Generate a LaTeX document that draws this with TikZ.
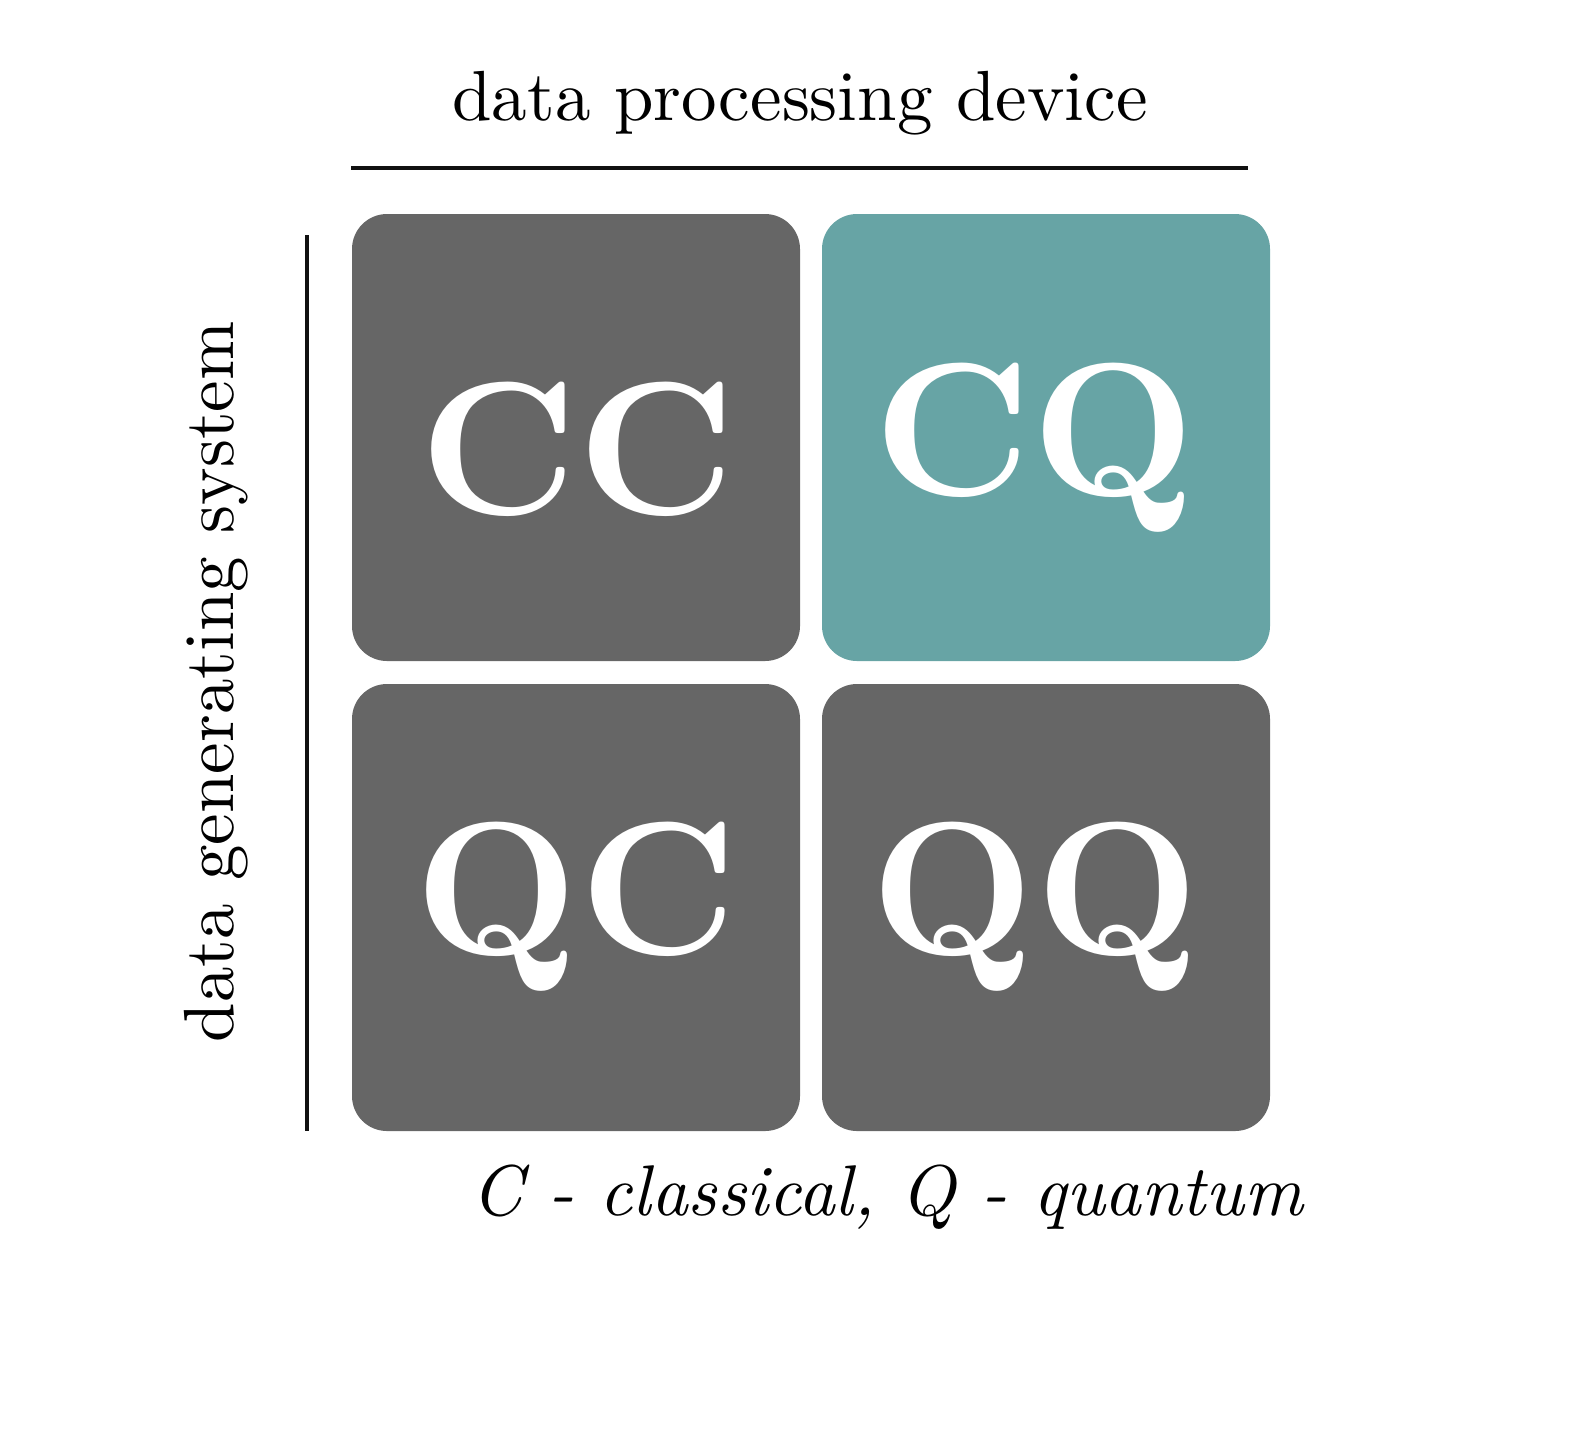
\documentclass[tikz,border=0pt]{standalone}
\usepackage{graphicx}
\definecolor{cellgray}{HTML}{666666}
\definecolor{cellteal}{HTML}{67A4A5}
\definecolor{rulecol}{HTML}{111111}
\begin{document}
\begin{tikzpicture}[x=0.5pt,y=-0.5pt,
  cell/.style={draw=none,rounded corners=17.5pt,minimum width=224pt,minimum height=223.5pt,inner sep=0pt},
  celltext/.style={anchor=base,text=white,inner sep=0pt,font=\bfseries},
  axistext/.style={anchor=base,inner sep=0pt},
  axisrule/.style={draw=rulecol,line width=2pt}]
\useasboundingbox (0,0) rectangle (1594,1432);
% cells
\node[cell,fill=cellgray] (cc) at (576,437.5) {};
\node[cell,fill=cellteal] (cq) at (1046,437.5) {};
\node[cell,fill=cellgray] (qc) at (576,907.5) {};
\node[cell,fill=cellgray] (qq) at (1046,907.5) {};
% cell labels
\node[celltext] (cct) at (577,514) {\scalebox{9.5}{CC}};
\node[celltext] (cqt) at (1035,495) {\scalebox{9.5}{CQ}};
\node[celltext] (qct) at (576,954) {\scalebox{9.5}{QC}};
\node[celltext] (qqt) at (1035,954) {\scalebox{9.5}{QQ}};
% axes
\coordinate (h1) at (351,167.5);
\coordinate (h2) at (1248,167.5);
\coordinate (v1) at (307,235);
\coordinate (v2) at (307,1131);
\draw[axisrule] (h1) -- (h2);
\draw[axisrule] (v1) -- (v2);
\node[axistext] (top) at (800,120) {\scalebox{3.55}{data processing device}};
\node[axistext,rotate=90] (side) at (233,682) {\scalebox{3.55}{data generating system}};
\node[axistext] (bottom) at (887,1215) {\scalebox{3.59}{\itshape C - classical, Q - quantum}};
\end{tikzpicture}
\end{document}
